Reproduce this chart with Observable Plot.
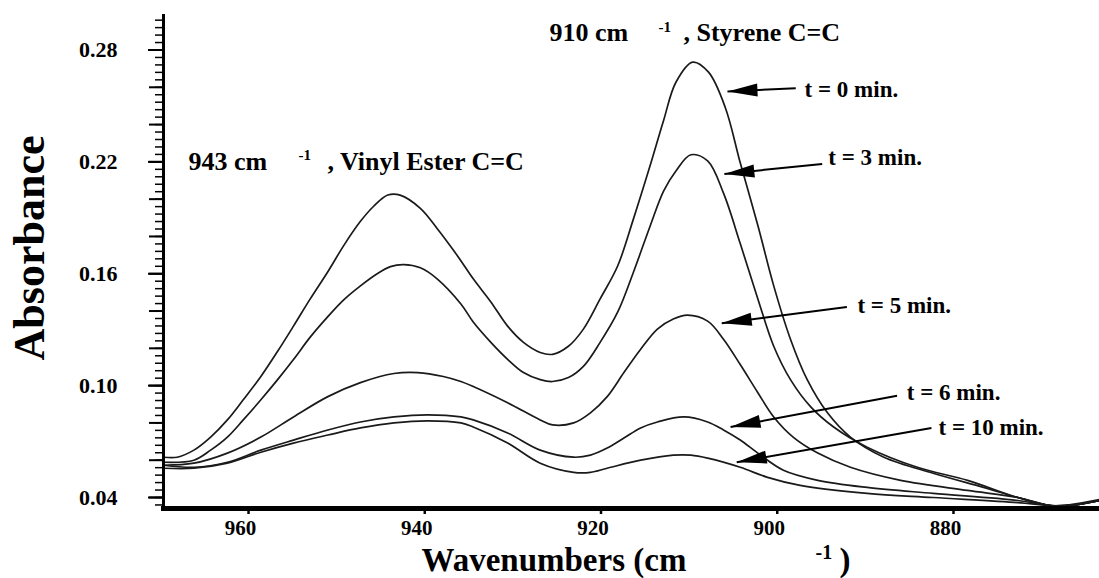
<!DOCTYPE html>
<html><head><meta charset="utf-8">
<script src="https://cdn.jsdelivr.net/npm/d3@7"></script>
<script src="https://cdn.jsdelivr.net/npm/@observablehq/plot@0.6"></script>
<style>
html,body{margin:0;padding:0;background:#fff;}
#chart svg{display:block;}
#chart svg text{font-family:"Liberation Serif","Times New Roman",serif !important;font-weight:bold;}
</style>
</head><body><div id="chart"></div>
<script>
// ---- Data ----
const seriesNames = ["t = 0 min.", "t = 3 min.", "t = 5 min.", "t = 6 min.", "t = 10 min."];

const t0Wavenumber = [969.6,968.1,966.2,964.3,962.4,960.6,958.6,956.7,954.9,953.0,951.0,949.2,947.3,945.8,944.2,942.8,940.5,938.6,936.3,934.5,932.5,930.6,928.8,926.9,925.5,923.7,922.0,920.1,918.1,916.3,914.4,912.9,911.5,909.6,907.8,905.9,904.2,902.2,900.4,898.5,896.6,894.3,891.7,887.9,882.3,876.6,872.7,869.0,866.7,863.4];
const t0Absorbance = [0.0616,0.0616,0.0654,0.0724,0.0816,0.0924,0.1049,0.1184,0.1319,0.1465,0.1611,0.1751,0.1881,0.1962,0.2022,0.2022,0.1951,0.1843,0.1697,0.1573,0.1449,0.1319,0.1232,0.1178,0.1168,0.1211,0.1303,0.1465,0.1643,0.1897,0.2184,0.2422,0.2627,0.2735,0.2681,0.2492,0.2195,0.1859,0.1535,0.1249,0.1032,0.0854,0.0724,0.0616,0.0530,0.0454,0.0400,0.0357,0.0362,0.0389];

const t3Wavenumber = [969.6,966.2,964.3,962.4,960.6,958.6,956.7,954.9,953.0,951.0,949.2,947.3,945.4,943.9,942.4,940.5,938.6,935.9,934.5,932.5,930.6,928.8,926.9,925.5,923.7,922.0,920.1,918.1,916.3,914.4,912.9,911.5,909.8,907.9,906.1,904.2,902.2,900.4,898.5,896.2,893.6,889.8,884.1,878.4,872.7,869.0,866.7,863.4];
const t3Absorbance = [0.0589,0.0600,0.0654,0.0724,0.0816,0.0924,0.1032,0.1140,0.1260,0.1370,0.1460,0.1535,0.1600,0.1638,0.1649,0.1632,0.1573,0.1438,0.1341,0.1232,0.1141,0.1070,0.1032,0.1022,0.1043,0.1103,0.1232,0.1395,0.1611,0.1859,0.2043,0.2151,0.2238,0.2205,0.2032,0.1762,0.1465,0.1211,0.1032,0.0886,0.0778,0.0670,0.0562,0.0492,0.0400,0.0357,0.0357,0.0384];

const t5Wavenumber = [969.6,966.2,962.4,958.6,954.9,951.0,947.3,943.5,940.8,937.9,935.9,934.5,930.6,926.9,925.5,923.1,921.2,919.3,917.4,915.5,913.6,911.8,910.2,907.9,906.1,904.2,902.2,900.4,898.2,895.4,891.7,886.0,878.4,872.7,869.0,866.7,863.4];
const t5Absorbance = [0.0573,0.0584,0.0638,0.0724,0.0832,0.0941,0.1016,0.1065,0.1070,0.1049,0.1022,0.0995,0.0908,0.0816,0.0789,0.0800,0.0854,0.0941,0.1070,0.1195,0.1303,0.1357,0.1378,0.1346,0.1249,0.1113,0.0962,0.0832,0.0724,0.0638,0.0562,0.0492,0.0438,0.0400,0.0357,0.0357,0.0384];

const t6Wavenumber = [969.6,966.2,962.4,958.6,954.9,951.0,947.3,943.5,939.7,935.9,934.5,930.6,926.9,923.1,921.2,919.3,917.4,915.5,913.6,910.6,907.9,906.1,904.2,902.2,899.3,895.4,889.8,882.3,872.7,869.0,866.7,863.4];
const t6Absorbance = [0.0573,0.0562,0.0589,0.0654,0.0708,0.0762,0.0805,0.0832,0.0843,0.0832,0.0816,0.0746,0.0654,0.0616,0.0627,0.0665,0.0719,0.0773,0.0805,0.0832,0.0805,0.0762,0.0708,0.0638,0.0546,0.0492,0.0454,0.0422,0.0384,0.0357,0.0357,0.0384];

const t10Wavenumber = [969.6,966.2,962.4,958.6,954.9,951.0,947.3,943.5,939.7,935.9,934.5,930.6,926.9,923.1,921.2,919.3,915.5,911.8,909.8,907.9,904.2,901.1,897.4,889.8,882.3,872.7,869.0,866.7,863.4];
const t10Absorbance = [0.0557,0.0557,0.0584,0.0643,0.0692,0.0735,0.0773,0.0800,0.0811,0.0800,0.0778,0.0692,0.0584,0.0535,0.0535,0.0557,0.0600,0.0627,0.0627,0.0611,0.0562,0.0508,0.0465,0.0422,0.0400,0.0373,0.0357,0.0357,0.0384];

// axis ticks
const xTicks = [960, 940, 920, 900, 880];
const yTickLabels = [0.04, 0.10, 0.16, 0.22, 0.28];
const yMediumTicks = [0.04, 0.06, 0.08, 0.10, 0.12, 0.14, 0.16, 0.18, 0.20, 0.22, 0.24, 0.26, 0.28];
const yMinorTicks = d3.range(0.036, 0.2985, 0.004);

// scale domains
const xDomain = [969.65, 863.43];
const yDomain = [0.0341, 0.2985];

// time labels and arrows (data units)
const labelWavenumber = [896.9, 894.2, 890.9, 885.3, 881.7];
const labelAbsorbance = [0.2589, 0.2222, 0.1427, 0.0962, 0.0773];
const arrowTailWavenumber = [897.9, 894.9, 892.1, 886.4, 882.5];
const arrowTailAbsorbance = [0.2595, 0.2189, 0.1422, 0.0946, 0.0773];
const arrowTipWavenumber = [905.65, 906.0, 906.3, 905.3, 904.6];
const arrowTipAbsorbance = [0.2578, 0.2135, 0.1335, 0.0778, 0.0589];

// band annotations
const bandText = ["910 cm", ", Styrene C=C", "943 cm", ", Vinyl Ester C=C"];
const bandWavenumber = [925.84, 910.64, 966.81, 951.04];
const bandAbsorbance = [0.2892, 0.2892, 0.2200, 0.2200];
const bandSupText = ["-1", "-1"];
const bandSupWavenumber = [913.47, 954.33];
const bandSupAbsorbance = [0.2924, 0.2238];

// ---- Build ----
const seriesW = [t0Wavenumber, t3Wavenumber, t5Wavenumber, t6Wavenumber, t10Wavenumber];
const seriesA = [t0Absorbance, t3Absorbance, t5Absorbance, t6Absorbance, t10Absorbance];
const rows = seriesNames.flatMap((t, s) => seriesW[s].map((w, i) => ({t, w, a: seriesA[s][i]})));

const serif = "Liberation Serif";
const opts = {
  width: 1099, height: 578,
  marginLeft: 163, marginRight: 0, marginTop: 15, marginBottom: 70,
  x: {domain: xDomain},
  y: {domain: yDomain},
  style: {background: "white", color: "black", overflow: "visible", fontFamily: serif}
};

const probe = Plot.plot({...opts, marks: [Plot.frame()]});
const sx = probe.scale("x"), sy = probe.scale("y");
const headAngle = seriesNames.map((_, i) =>
  Math.atan2(sy.apply(arrowTipAbsorbance[i]) - sy.apply(arrowTailAbsorbance[i]),
             sx.apply(arrowTipWavenumber[i]) - sx.apply(arrowTailWavenumber[i])) * 180 / Math.PI);

const arrowHead = {draw(context) {
  context.moveTo(0, 0);
  context.lineTo(-30, -6.5);
  context.lineTo(-30, 6.5);
  context.closePath();
}};

const bold = {fontFamily: serif, fontWeight: "bold", fill: "black"};

const chart = Plot.plot({
  ...opts,
  marks: [
    Plot.axisY({ticks: yMinorTicks, tickSize: 8, tickFormat: () => "", label: null, strokeWidth: 1.5}),
    Plot.axisY({ticks: yMediumTicks, tickSize: 14, tickFormat: () => "", label: null, strokeWidth: 2}),
    Plot.axisY({ticks: yTickLabels, tickSize: 15, tickPadding: 31, tickFormat: ".2f", label: null,
      fontSize: 22, fontWeight: "bold", fontFamily: serif, strokeWidth: 2}),
    Plot.axisX({ticks: xTicks, tickSize: 6, tickFormat: () => "", label: null, strokeWidth: 2.5}),
    Plot.axisX({ticks: xTicks, tickSize: 0, tickPadding: 12, dx: -8, label: null,
      fontSize: 21, fontWeight: "bold", fontFamily: serif}),
    Plot.line(rows, {x: "w", y: "a", z: "t", stroke: "#1a1a1a", strokeWidth: 1.7, curve: "catmull-rom"}),
    Plot.frame({anchor: "left", strokeWidth: 3}),
    Plot.frame({anchor: "bottom", strokeWidth: 5}),
    Plot.link(seriesNames, {x1: arrowTailWavenumber, y1: arrowTailAbsorbance, x2: arrowTipWavenumber, y2: arrowTipAbsorbance,
      stroke: "black", strokeWidth: 2}),
    Plot.dot(seriesNames, {x: arrowTipWavenumber, y: arrowTipAbsorbance, rotate: headAngle, symbol: arrowHead,
      fill: "black", stroke: "none"}),
    Plot.text(seriesNames, {x: labelWavenumber, y: labelAbsorbance, textAnchor: "start", fontSize: 23, ...bold}),
    Plot.text(bandText, {x: bandWavenumber, y: bandAbsorbance, textAnchor: "start", fontSize: 26, ...bold}),
    Plot.text(bandSupText, {x: bandSupWavenumber, y: bandSupAbsorbance, textAnchor: "start", fontSize: 15, ...bold}),
    Plot.text(["Absorbance"], {frameAnchor: "left", dx: -134, dy: -14, rotate: -90, textAnchor: "middle", lineAnchor: "middle", fontSize: 44, ...bold}),
    Plot.text(["Wavenumbers (cm"], {frameAnchor: "bottom-left", dx: 258, dy: 62, textAnchor: "start", lineAnchor: "bottom", fontSize: 33, ...bold}),
    Plot.text(["-1"], {frameAnchor: "bottom-left", dx: 652, dy: 50, textAnchor: "start", lineAnchor: "bottom", fontSize: 20, ...bold}),
    Plot.text([")"], {frameAnchor: "bottom-left", dx: 676, dy: 62, textAnchor: "start", lineAnchor: "bottom", fontSize: 33, ...bold})
  ]
});
document.getElementById("chart").appendChild(chart);
</script>
</body></html>
